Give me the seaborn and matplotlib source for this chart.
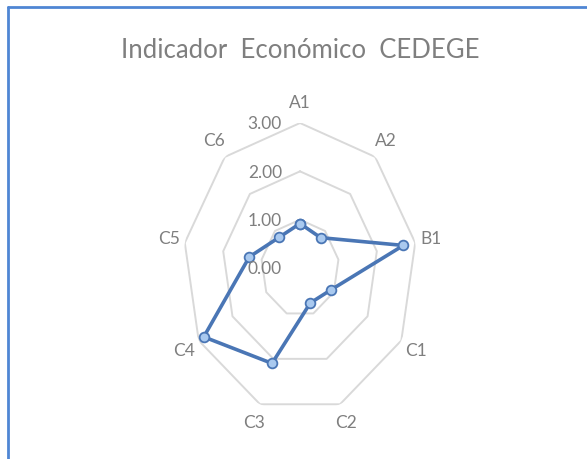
import numpy as np
import pandas as pd
import matplotlib
matplotlib.use("Agg")
import matplotlib.pyplot as plt
import seaborn as sns
from matplotlib.lines import Line2D

# data
categories = ["A1", "A2", "B1", "C1", "C2", "C3", "C4", "C5", "C6"]
values = [0.92, 0.82, 2.69, 0.91, 0.77, 2.10, 2.85, 1.32, 0.83]
ring_levels = [0, 1, 2, 3]
ring_labels = ["0.00", "1.00", "2.00", "3.00"]
title = "Indicador  Económico  CEDEGE"

sns.set_theme(style="white")
plt.rcParams["font.family"] = ["Lato", "DejaVu Sans"]

grey = "#7f7f7f"
blue = "#4a76b5"

angles = np.linspace(0, 2 * np.pi, len(categories), endpoint=False)
closed = np.append(angles, 2 * np.pi)
df = pd.DataFrame({"angle": closed, "value": values + values[:1]})

fig = plt.figure(figsize=(5.87, 4.59), dpi=100)
ax = fig.add_axes([0.3118, 0.1002, 0.3986, 0.6318], projection="polar")
ax.set_aspect("auto")
ax.set_theta_zero_location("N")
ax.set_theta_direction(-1)
ax.grid(False)
ax.spines["polar"].set_visible(False)

# nonagon rings instead of circles
for lv in ring_levels[1:]:
    ax.plot(closed, [lv] * len(closed), color="#d9d9d9", lw=1.4, zorder=1)

sns.lineplot(data=df, x="angle", y="value", sort=False, estimator=None, ax=ax,
             color=blue, lw=2.6, marker="o", markersize=7,
             markerfacecolor="#a9c9ef", markeredgecolor=blue,
             markeredgewidth=1.3, zorder=3)

ax.set_ylim(0, 3)
ax.set_xticks([])
ax.set_yticks([])
ax.set_xlabel("")
ax.set_ylabel("")

for a, c in zip(angles, categories):
    ax.text(a, 3.42, c, ha="center", va="center", fontsize=12.5, color=grey)

for lv, lab in zip(ring_levels, ring_labels):
    ax.annotate(lab, xy=(0, lv), xytext=(-13, -1), textcoords="offset points",
                ha="right", va="center", fontsize=12.5, color=grey)

fig.text(0.511, 1 - 50 / 459, title, ha="center", va="center", fontsize=18.5, color=grey)

# chart frame (left and top edges only visible)
fig.add_artist(Line2D([0.0136, 0.0136], [0, 0.9847], color="#4f86d4", lw=2))
fig.add_artist(Line2D([0.0136, 1], [0.9847, 0.9847], color="#4f86d4", lw=2))

fig.savefig("out.png", dpi=100, facecolor="white")
